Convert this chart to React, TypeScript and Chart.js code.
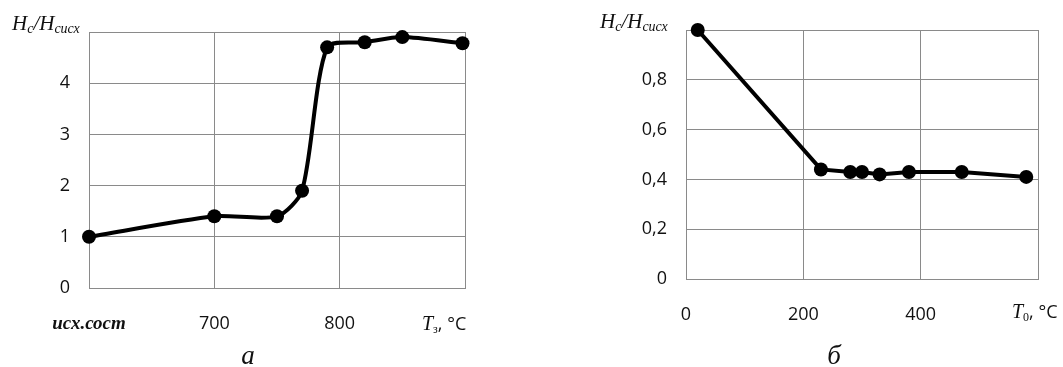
import React, { useEffect, useRef } from 'react';
import { Chart, registerables } from 'chart.js';
Chart.register(...registerables);

// Chart "а": relative coercive force vs quench temperature
const tempA = [600, 700, 750, 770, 790, 820, 850, 898];
const ratioA = [1.0, 1.4, 1.4, 1.9, 4.7, 4.8, 4.9, 4.78];
const xTickValuesA = [600, 700, 800, 900];
const xTickLabelsA = ['исх.сост', '700', '800', ''];
const yTickLabelsA = ['0', '1', '2', '3', '4', ''];

// Chart "б": relative coercive force vs tempering temperature
const tempB = [20, 230, 280, 300, 330, 380, 470, 580];
const ratioB = [1.0, 0.44, 0.43, 0.43, 0.42, 0.43, 0.43, 0.41];
const xTickValuesB = [0, 200, 400, 600];
const xTickLabelsB = ['0', '200', '400', ''];
const yTickLabelsB = ['0', '0,2', '0,4', '0,6', '0,8', ''];

const GRID = '#8a8a8a';
const TEXT = '#111';
const SERIF = '"Liberation Serif", "DejaVu Serif", serif';
const SANS = '"Open Sans", "Liberation Sans", sans-serif';

type Part = { t: string; font: string; dy?: number };

function drawRich(ctx: CanvasRenderingContext2D, x: number, y: number, parts: Part[]) {
  let cx = x;
  ctx.textAlign = 'left';
  ctx.textBaseline = 'alphabetic';
  for (const p of parts) {
    ctx.font = p.font;
    ctx.fillText(p.t, cx, y + (p.dy || 0));
    cx += ctx.measureText(p.t).width;
  }
}

const ratioParts = (): Part[] => [
  { t: 'H', font: `italic 21px ${SERIF}` },
  { t: 'c', font: `italic 14px ${SERIF}`, dy: 3 },
  { t: '/', font: `italic 21px ${SERIF}` },
  { t: 'H', font: `italic 21px ${SERIF}` },
  { t: 'сисх', font: `italic 14px ${SERIF}`, dy: 3 },
];

const tempParts = (sub: string): Part[] => [
  { t: 'T', font: `italic 20px ${SERIF}` },
  { t: sub, font: `12px ${SERIF}`, dy: 3 },
  { t: ', ', font: `18px ${SANS}` },
  { t: '°C', font: `18px ${SANS}` },
];

function makeLabelPlugin(opts: {
  titleX: number; titleY: number; axX: number; axY: number; sub: string; cap: string; capX: number; capY: number;
}) {
  return {
    id: 'labels',
    afterDraw(chart: any) {
      const ctx: CanvasRenderingContext2D = chart.ctx;
      ctx.save();
      ctx.fillStyle = TEXT;
      drawRich(ctx, opts.titleX, opts.titleY, ratioParts());
      drawRich(ctx, opts.axX, opts.axY, tempParts(opts.sub));
      ctx.font = `italic 27px ${SERIF}`;
      ctx.textAlign = 'center';
      ctx.textBaseline = 'alphabetic';
      ctx.fillText(opts.cap, opts.capX, opts.capY);
      ctx.restore();
    },
  };
}

function buildConfig(p: {
  xs: number[]; ys: number[]; xTicks: number[]; xLabels: string[]; yMax: number; yStep: number; yLabels: string[];
  padRight: number; padTop: number; padBottom: number; yWidth: number; tension: number; lineWidth: number; radius: number;
  plugin: any;
}) {
  const lookup = (vals: number[], labels: string[], v: number) => {
    const i = vals.findIndex((a) => Math.abs(a - v) < 1e-6);
    return i >= 0 ? labels[i] : '';
  };
  const yVals = p.yLabels.map((_, i) => i * p.yStep);
  return {
    type: 'line' as const,
    data: {
      datasets: [
        {
          data: p.xs.map((x, i) => ({ x, y: p.ys[i] })),
          borderColor: '#000',
          borderWidth: p.lineWidth,
          pointRadius: p.radius,
          pointBackgroundColor: '#000',
          pointBorderColor: '#000',
          pointBorderWidth: 0,
          tension: p.tension,
          clip: false as const,
          fill: false,
        },
      ],
    },
    options: {
      animation: false as const,
      responsive: false,
      maintainAspectRatio: false,
      devicePixelRatio: 1,
      layout: { padding: { left: 0, right: p.padRight, top: p.padTop, bottom: p.padBottom } },
      plugins: { legend: { display: false }, tooltip: { enabled: false } },
      scales: {
        x: {
          type: 'linear' as const,
          min: p.xTicks[0],
          max: p.xTicks[p.xTicks.length - 1],
          afterBuildTicks: (s: any) => { s.ticks = p.xTicks.map((v) => ({ value: v })); },
          afterFit: (s: any) => { s.height = 64; },
          grid: { color: GRID, lineWidth: 1, drawTicks: false },
          border: { color: GRID, width: 1 },
          ticks: {
            padding: 25,
            maxRotation: 0,
            autoSkip: false,
            color: TEXT,
            font: (c: any) =>
              c.tick && c.tick.value === p.xTicks[0] && p.xLabels[0].length > 3
                ? { family: SERIF, size: 19, style: 'italic', weight: 'bold' }
                : { family: SANS, size: 18 },
            callback: (v: any) => lookup(p.xTicks, p.xLabels, Number(v)),
          },
        },
        y: {
          min: 0,
          max: p.yMax,
          afterBuildTicks: (s: any) => { s.ticks = yVals.map((v) => ({ value: v })); },
          afterFit: (s: any) => { s.width = p.yWidth; },
          grid: { color: GRID, lineWidth: 1, drawTicks: false },
          border: { color: GRID, width: 1 },
          ticks: {
            padding: 19,
            color: TEXT,
            font: { family: SANS, size: 18 },
            callback: (v: any) => lookup(yVals, p.yLabels, Number(v)),
          },
        },
      },
    },
    plugins: [p.plugin],
  };
}

export default function App() {
  const refA = useRef<HTMLCanvasElement>(null);
  const refB = useRef<HTMLCanvasElement>(null);

  useEffect(() => {
    const chartA = new Chart(
      refA.current as HTMLCanvasElement,
      buildConfig({
        xs: tempA, ys: ratioA, xTicks: xTickValuesA, xLabels: xTickLabelsA,
        yMax: 5, yStep: 1, yLabels: yTickLabelsA,
        padRight: 75, padTop: 32, padBottom: 15, yWidth: 89,
        tension: 0.25, lineWidth: 4, radius: 7,
        plugin: makeLabelPlugin({ titleX: 12, titleY: 30, axX: 422, axY: 330, sub: 'з', cap: 'а', capX: 248, capY: 364 }),
      }) as any
    );
    const chartB = new Chart(
      refB.current as HTMLCanvasElement,
      buildConfig({
        xs: tempB, ys: ratioB, xTicks: xTickValuesB, xLabels: xTickLabelsB,
        yMax: 1, yStep: 0.2, yLabels: yTickLabelsB,
        padRight: 10, padTop: 30, padBottom: 24, yWidth: 146,
        tension: 0, lineWidth: 4, radius: 7,
        plugin: makeLabelPlugin({ titleX: 60, titleY: 28, axX: 472, axY: 318, sub: '0', cap: 'б', capX: 294, capY: 364 }),
      }) as any
    );
    return () => {
      chartA.destroy();
      chartB.destroy();
    };
  }, []);

  return (
    <div style={{ position: 'absolute', left: 0, top: 0, width: 1063, height: 367, background: '#fff', overflow: 'hidden' }}>
      <canvas ref={refA} width={540} height={367} style={{ position: 'absolute', left: 0, top: 0, width: 540, height: 367 }} />
      <canvas ref={refB} width={523} height={367} style={{ position: 'absolute', left: 540, top: 0, width: 523, height: 367 }} />
    </div>
  );
}
